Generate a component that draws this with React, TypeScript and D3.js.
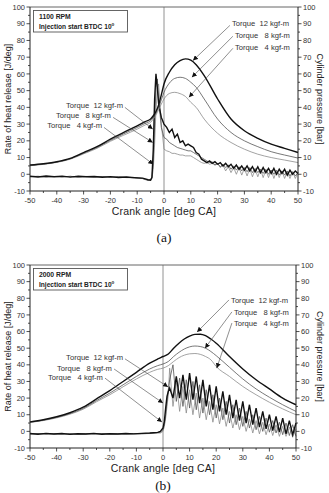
import { useEffect } from "react";
import * as d3 from "d3";

// axis ticks
const crankTicks = [-50, -40, -30, -20, -10, 0, 10, 20, 30, 40, 50];
const valueTicks = [-10, 0, 10, 20, 30, 40, 50, 60, 70, 80, 90, 100];
const torqueLabels = ["Torque  12 kgf-m", "Torque   8 kgf-m", "Torque   4 kgf-m"];

// ---- (a) 1100 RPM ----
const pAngleA = [-50, -45, -40, -35, -30, -25, -20, -15, -10, -7, -5, -4, -3, -2, -1, 0, 2, 4, 6, 8, 10, 12, 15, 20, 25, 30, 35, 40, 45, 50];
const pA12 = [5.5, 6.3, 7.5, 9.5, 13, 16.5, 21, 25, 29, 31.5, 33, 35, 37.5, 41.5, 47.5, 54, 61, 65.5, 68, 69, 68.2, 65.5, 59, 45, 33, 26, 21.5, 18, 15.5, 13];
const pA8 = [5.3, 6.1, 7.3, 9.2, 12.6, 16, 20.3, 24.2, 28, 30.5, 32, 34, 36.5, 40, 44.5, 49, 54.5, 57.3, 58, 57.3, 55, 52, 45, 33, 25, 20, 16.5, 13.5, 11.5, 9.7];
const pA4 = [5.1, 5.9, 7.1, 9, 12.2, 15.5, 19.7, 23.4, 27, 29.5, 31, 33, 35.5, 38.5, 42, 45, 48.3, 49, 48.2, 46.5, 43, 40, 33, 24.5, 19, 15, 12, 10, 8.5, 7];

const hAngleA = [
  -50, -47, -44, -41, -38, -35, -32, -29, -26, -23, -20, -17, -14, -11, -8,
  -7, -6, -5, -4.5, -4, -3.5, -3, -2.5, -2, -1, 0,
  1, 2, 3, 4, 5, 6, 7, 8, 9, 10, 11, 12, 13, 14, 15, 16, 17, 18, 19, 20, 21, 22, 23, 24, 25,
  26, 27, 28, 29, 30, 31, 32, 33, 34, 35, 36, 37, 38, 39, 40, 41, 42, 43, 44, 45, 46, 47, 48, 49, 50,
];
const hA12 = [
  -1.2, -1.6, -1.0, -1.5, -1.1, -1.7, -1.2, -1.5, -1.3, -1.8, -1.4, -1.9, -1.6, -2.0, -2.3,
  -2.8, -3.3, -3.5, -2, 15, 45, 60, 52, 42, 34, 30,
  28, 25, 27, 22, 24, 19, 20, 17, 18, 17, 16, 13, 12, 9, 8, 7, 8, 6.5, 7.5, 6, 7, 5, 6.5, 4.5, 6,
  3.5, 5.5, 3, 5, 2.5, 5, 2, 4.5, 1.5, 4.5, 1, 4, 1, 3.5, 0.5, 3.5, 0, 3, 0.5, 3, -0.5, 2.5, 0, 2, 0.5,
];
const hA8 = [
  -1.4, -1.2, -1.7, -1.3, -1.6, -1.2, -1.7, -1.3, -1.6, -1.4, -1.9, -1.5, -1.8, -2.2, -2.5,
  -3.0, -3.5, -3.2, -1.5, 8, 30, 52, 57, 45, 28, 22,
  21, 19, 18, 17, 16, 15.5, 15, 14.5, 14, 14, 13, 12, 11, 10, 9, 8, 7, 7.5, 5.5, 6.5, 4.5, 6, 4, 5.5, 3,
  5, 2.5, 4.5, 2, 4, 1.5, 4, 1, 3.5, 1, 3, 0.5, 3, 0, 2.5, 0, 2.5, -0.5, 2, -0.5, 2, -1, 1.5, -1, 1,
];
const hA4 = [
  -1.5, -1.3, -1.6, -1.4, -1.7, -1.3, -1.6, -1.4, -1.8, -1.5, -1.7, -1.6, -2, -2.1, -2.6,
  -3.2, -3.6, -3.3, -2.5, 3, 18, 38, 50, 54, 30, 15,
  14, 13.5, 12.5, 12.5, 12, 11.5, 11.5, 11, 11, 11, 10, 9, 8, 7, 6.5, 7, 6, 6.5, 5.5, 6.5, 4, 5.5, 2, 4.5, 1,
  4, 0, 4, -0.5, 3.5, -1, 3.5, -1.5, 3, -1.5, 3, -2, 2.5, -2, 2.5, -2.5, 2, -2, 2, -2.5, 1.5, -2.5, 1.5, -2.5, 1,
];

// ---- (b) 2000 RPM ----
const pAngleB = [-50, -45, -40, -35, -30, -25, -20, -15, -10, -5, -2, 0, 2, 4, 6, 8, 10, 12, 14, 16, 18, 20, 25, 30, 35, 40, 45, 50];
const pB12 = [5.7, 7, 8.8, 11.2, 14.5, 19.5, 24.5, 30, 35.5, 41, 43.5, 45, 46.5, 50, 53, 55.5, 57.3, 58.3, 58.4, 57.5, 55.5, 53, 45, 37.5, 31, 25.5, 20, 16];
const pB8 = [5.5, 6.7, 8.4, 10.7, 13.8, 18.5, 23, 28, 33, 37.5, 39.5, 40.5, 42, 45, 47.5, 49.5, 50.8, 51.3, 51, 50, 48, 45.5, 38.5, 31.5, 25.5, 20.5, 16, 12];
const pB4 = [5.3, 6.5, 8.1, 10.3, 13.3, 17.8, 22, 26.8, 31.5, 35.5, 37.3, 38, 39.5, 42, 44.3, 45.8, 46.6, 46.8, 46.3, 45, 43, 39, 33, 27, 22, 17.5, 13.5, 10];

const hAngleB = [
  -50, -47, -44, -41, -38, -35, -32, -29, -26, -23, -20, -17, -14, -11, -8, -5, -2,
  -1, 0, 0.5, 1, 1.5, 2,
  2.5, 3.75, 5, 6.25, 7.5, 8.75, 10, 11.25, 12.5, 13.75, 15, 16.25, 17.5, 18.75, 20, 21.25, 22.5, 23.75, 25,
  26.25, 27.5, 28.75, 30, 31.25, 32.5, 33.75, 35, 36.25, 37.5, 38.75, 40, 41.25, 42.5, 43.75, 45, 46.25, 47.5, 48.75, 50,
];
const hB12 = [
  -1.3, -1.7, -1.2, -1.6, -1.3, -1.8, -1.4, -1.6, -1.2, -1.7, -1.4, -1.6, -1.3, -1.5, -1.2, -1.0, -0.6,
  0, 2, 6, 14, 21, 24,
  26, 20, 33, 20, 34, 19, 35, 19, 33, 17, 31, 15, 28, 13, 27, 12, 24, 10, 22, 8,
  19, 6.5, 18, 5, 16, 4, 14, 2.5, 12, 1.5, 10, 0.5, 9, -0.5, 8, -1.5, 6.5, -2, 5,
];
const hB8 = [
  -1.5, -1.3, -1.7, -1.4, -1.6, -1.3, -1.7, -1.4, -1.6, -1.3, -1.5, -1.4, -1.6, -1.3, -1.4, -1.2, -0.8,
  -0.5, 1, 4, 10, 18, 25,
  31, 40, 18, 32, 15, 31, 14, 30, 13, 28, 11, 25, 10, 22, 8, 20, 7, 18, 5, 16,
  4, 14, 3, 12, 2, 10, 1, 9, 0, 8, -0.5, 6.5, -1, 5.5, -2, 5, -2.5, 4, -3,
];
const hB4 = [
  -1.6, -1.5, -1.4, -1.7, -1.5, -1.6, -1.4, -1.7, -1.5, -1.6, -1.4, -1.7, -1.5, -1.6, -1.5, -1.3, -1.0,
  -1, 0, 3, 8, 15, 22,
  38, 15, 30, 12, 27, 11, 25, 10, 23, 8, 20, 7, 18, 5.5, 16, 4.5, 14, 3, 12, 2,
  10, 1, 9, 0, 7.5, -1, 6.5, -1.5, 5.5, -2, 4.5, -2.5, 4, -3, 3, -3, 2.5, -3.5, 1.5,
];

// annotation anchors in data units: text (tx,ty), leader start (lx,ly), arrow tip (ax,ay)
const notesA = [
  { t: 0, anchor: "end", tx: -15.3, ty: 41.2, lx: -14.6, ly: 40, ax: -4.2, ay: 27 },
  { t: 1, anchor: "end", tx: -19.8, ty: 35.3, lx: -19, ly: 34, ax: -4.2, ay: 19 },
  { t: 2, anchor: "end", tx: -23.1, ty: 29.3, lx: -22.4, ly: 28, ax: -4, ay: 6 },
  { t: 0, anchor: "start", tx: 25.4, ty: 90.3, lx: 24.6, ly: 89, ax: 10.8, ay: 68 },
  { t: 1, anchor: "start", tx: 26.5, ty: 83, lx: 25.7, ly: 82.5, ax: 10.4, ay: 58 },
  { t: 2, anchor: "start", tx: 26.5, ty: 76, lx: 25.7, ly: 75.3, ax: 9.3, ay: 46 },
];
const notesB = [
  { t: 0, anchor: "end", tx: -15, ty: 44.2, lx: -14.3, ly: 43.6, ax: 1.9, ay: 26.7 },
  { t: 1, anchor: "end", tx: -19.2, ty: 38.1, lx: -18.4, ly: 37.5, ax: 0, ay: 17 },
  { t: 2, anchor: "end", tx: -22.6, ty: 32.7, lx: -21.8, ly: 32, ax: -0.4, ay: 5.6 },
  { t: 0, anchor: "start", tx: 25.6, ty: 79, lx: 24.8, ly: 79, ax: 12.8, ay: 59.7 },
  { t: 1, anchor: "start", tx: 26.7, ty: 71.8, lx: 25.9, ly: 71.8, ax: 15.8, ay: 50 },
  { t: 2, anchor: "start", tx: 26.7, ty: 65.1, lx: 25.9, ly: 65.1, ax: 20.2, ay: 38 },
];

// torque 12, 8, 4
const styles = [
  { stroke: "#111", w: 1.4 },
  { stroke: "#555", w: 0.8 },
  { stroke: "#8c8c8c", w: 0.8 },
];

const FONT = "'Liberation Sans', Arial, sans-serif";

function Panel({ frame, rpm, pAngle, pSeries, hAngle, hSeries, notes, tag, tagOffset }: any) {
  const { left, right, top, bottom } = frame;
  const x = d3.scaleLinear().domain([-50, 50]).range([left, right]);
  const y = d3.scaleLinear().domain([-10, 100]).range([bottom, top]);
  const pLine = d3.line<number>().x((d, i) => x(pAngle[i])).y((d) => y(d)).curve(d3.curveMonotoneX);
  const hLine = d3.line<number>().x((d, i) => x(hAngle[i])).y((d) => y(d));
  const minorY = d3.range(-10, 101, 5);
  const minorX = d3.range(-50, 51, 5);
  const order = [2, 1, 0];

  return (
    <g fontFamily={FONT}>
      {/* zero crank line */}
      <line x1={x(0)} x2={x(0)} y1={top} y2={bottom} stroke="#777" strokeWidth={0.8} />

      {/* legend box */}
      <rect x={left + 3.5} y={top + 3.5} width={94} height={21.5} fill="#fff" stroke="#555" strokeWidth={0.9} />
      <text x={left + 9} y={top + 12} fontSize={6.8} fontWeight="bold" fill="#222">{rpm}</text>
      <text x={left + 9} y={top + 21.5} fontSize={6.6} fontWeight="bold" fill="#222">
        Injection start BTDC 10<tspan dy={-3} fontSize={4.5}>o</tspan>
      </text>

      {order.map((k) => (
        <path key={"h" + k} d={hLine(hSeries[k]) || ""} fill="none" stroke={styles[k].stroke} strokeWidth={styles[k].w} />
      ))}
      {order.map((k) => (
        <path key={"p" + k} d={pLine(pSeries[k]) || ""} fill="none" stroke={styles[k].stroke} strokeWidth={styles[k].w} />
      ))}

      {/* annotations */}
      {notes.map((n: any, i: number) => (
        <g key={i}>
          <line x1={x(n.lx)} y1={y(n.ly)} x2={x(n.ax)} y2={y(n.ay)} stroke="#444" strokeWidth={0.6} markerEnd="url(#arr)" />
          <text x={x(n.tx)} y={y(n.ty)} dy="0.35em" textAnchor={n.anchor} fontSize={7.6} fill="#333" style={{ whiteSpace: "pre" }}>
            {torqueLabels[n.t]}
          </text>
        </g>
      ))}

      {/* frame */}
      <line x1={left} x2={right} y1={top} y2={top} stroke="#666" strokeWidth={1} />
      <line x1={left} x2={right} y1={bottom} y2={bottom} stroke="#222" strokeWidth={1} />
      <line x1={left} x2={left} y1={top} y2={bottom} stroke="#222" strokeWidth={1} />
      <line x1={right} x2={right} y1={top} y2={bottom} stroke="#222" strokeWidth={1} />

      {minorY.map((v) => {
        const len = v % 10 === 0 ? 3.5 : 2;
        return (
          <g key={"y" + v}>
            <line x1={left - len} x2={left} y1={y(v)} y2={y(v)} stroke="#222" strokeWidth={0.8} />
            <line x1={right} x2={right + len} y1={y(v)} y2={y(v)} stroke="#222" strokeWidth={0.8} />
          </g>
        );
      })}
      {minorX.map((v) => {
        const len = v % 10 === 0 ? 3.5 : 2;
        return <line key={"x" + v} x1={x(v)} x2={x(v)} y1={bottom} y2={bottom + len} stroke="#222" strokeWidth={0.8} />;
      })}
      {valueTicks.map((v) => (
        <g key={"yl" + v} fontSize={7.5} fill="#333">
          <text x={left - 5} y={y(v)} dy="0.35em" textAnchor="end">{v}</text>
          <text x={right + 5} y={y(v)} dy="0.35em" textAnchor="start">{v}</text>
        </g>
      ))}
      {crankTicks.map((v) => (
        <text key={"xl" + v} x={x(v)} y={bottom + 9} dy="0.35em" textAnchor="middle" fontSize={7.5} fill="#333">{v}</text>
      ))}

      <text x={(left + right) / 2} y={bottom + 20.5} dy="0.35em" textAnchor="middle" fontSize={10.5} fill="#222" letterSpacing={0.2}>
        Crank angle [deg CA]
      </text>
      <text transform={`translate(8,${(top + bottom) / 2}) rotate(-90)`} textAnchor="middle" dy="0.35em" fontSize={9} fill="#222">
        Rate of heat release [J/deg]
      </text>
      <text transform={`translate(320,${(top + bottom) / 2}) rotate(90)`} textAnchor="middle" dy="0.35em" fontSize={9} fill="#222">
        Cylinder pressure [bar]
      </text>
      <text x={(left + right) / 2} y={bottom + tagOffset} dy="0.35em" textAnchor="middle" fontSize={13.5} fill="#111" fontFamily="'Liberation Serif', serif">
        {tag}
      </text>
    </g>
  );
}

export default function App() {
  useEffect(() => {
    document.body.style.margin = "0";
  }, []);

  return (
    <svg width={329} height={493} style={{ display: "block", background: "#fff" }}>
      <defs>
        <marker id="arr" viewBox="0 0 6 6" refX={6} refY={3} markerWidth={5} markerHeight={5} markerUnits="userSpaceOnUse" orient="auto">
          <path d="M0,0 L6,3 L0,6 Z" fill="#111" />
        </marker>
      </defs>
      <Panel
        frame={{ left: 30, right: 298, top: 7, bottom: 191 }}
        rpm="1100 RPM"
        pAngle={pAngleA}
        pSeries={[pA12, pA8, pA4]}
        hAngle={hAngleA}
        hSeries={[hA12, hA8, hA4]}
        notes={notesA}
        tag="(a)"
        tagOffset={46}
      />
      <Panel
        frame={{ left: 30, right: 296, top: 265, bottom: 448 }}
        rpm="2000 RPM"
        pAngle={pAngleB}
        pSeries={[pB12, pB8, pB4]}
        hAngle={hAngleB}
        hSeries={[hB12, hB8, hB4]}
        notes={notesB}
        tag="(b)"
        tagOffset={37}
      />
    </svg>
  );
}
